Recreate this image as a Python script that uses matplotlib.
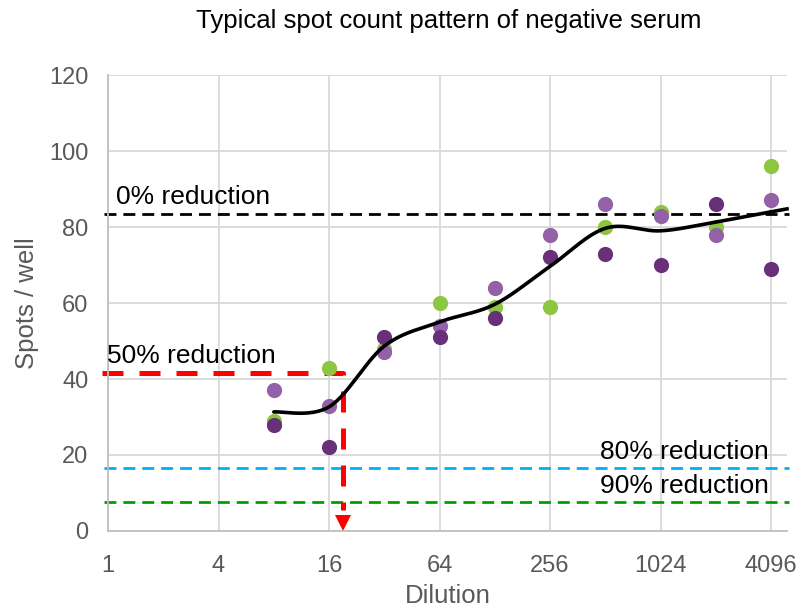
import numpy as np
from matplotlib import pyplot as plt

plt.rcParams['font.family'] = ['Liberation Sans', 'DejaVu Sans']

# data
dilution = [8, 16, 32, 64, 128, 256, 512, 1024, 2048, 4096]
rep_green = [29, 43, 48, 60, 59, 59, 80, 84, 80, 96]
rep_light = [37, 33, 47, 54, 64, 78, 86, 83, 78, 87]
rep_dark = [28, 22, 51, 51, 56, 72, 73, 70, 86, 69]

ref_levels = [83.5, 41.5, 16.5, 7.5]  # 0%, 50%, 80%, 90% reduction
ref_names = ["0% reduction", "50% reduction", "80% reduction", "90% reduction"]
cutoff_dilution = 19

xticks = [1, 4, 16, 64, 256, 1024, 4096]
yticks = [0, 20, 40, 60, 80, 100, 120]

GRAY = "#595959"

def smooth(xs, ys, n=30):  # Catmull-Rom style smoothing, like a spreadsheet "smoothed line"
  px = np.log2(np.array(xs, dtype=float))
  py = np.array(ys, dtype=float)
  P = np.column_stack([px, py])
  P = np.vstack([P[0], P, P[-1]])
  out = []
  for i in range(1, len(P) - 2):
    p0, p1, p2, p3 = P[i-1], P[i], P[i+1], P[i+2]
    c1 = p1 + (p2 - p0) / 6
    c2 = p2 - (p3 - p1) / 6
    t = np.linspace(0, 1, n)[:, None]
    seg = (1-t)**3*p1 + 3*(1-t)**2*t*c1 + 3*(1-t)*t**2*c2 + t**3*p2
    out.append(seg)
  out = np.vstack(out)
  return 2**out[:, 0], out[:, 1]

mean = np.mean([rep_green, rep_light, rep_dark], axis=0)
sx, sy = smooth(dilution, mean)
# keep going to the right edge with the last slope
slope = (sy[-1] - sy[-2]) / (np.log2(sx[-1]) - np.log2(sx[-2]))
ex = np.array([sx[-1], 5000.0])
ey = sy[-1] + slope * (np.log2(ex) - np.log2(sx[-1]))

fig = plt.figure(figsize=(8.02, 6.09), dpi=100)
ax = fig.add_axes([0.1347, 0.1281, 0.8466, 0.7487])
ax.set_xscale('log', base=2)
ax.set_xlim(1, 5000)
ax.set_ylim(0, 120)

ax.grid(True, color="#D9D9D9", linewidth=1.3)
ax.set_axisbelow(True)
for s in ['top', 'right']:
  ax.spines[s].set_visible(False)
for s in ['left', 'bottom']:
  ax.spines[s].set_color("#BFBFBF")
  ax.spines[s].set_linewidth(1.3)

ax.set_xticks(xticks)
ax.set_xticklabels([str(v) for v in xticks])
ax.set_yticks(yticks)
ax.minorticks_off()
ax.tick_params(length=0, labelsize=17, colors=GRAY)
ax.tick_params(axis='x', pad=17)
ax.tick_params(axis='y', pad=14)

# reference lines
x0, x1 = 0.95, 5150
dash = (0, (4.3, 2.5))
ax.plot([x0, x1], [ref_levels[0]]*2, color="black", ls=dash, lw=2, clip_on=False)
ax.plot([x0, x1], [ref_levels[2]]*2, color="#00B0F0", ls=dash, lw=2, clip_on=False)
ax.plot([x0, x1], [ref_levels[3]]*2, color="#00A000", ls=dash, lw=2, clip_on=False)

# 50% cutoff
ax.plot([0.93, cutoff_dilution, cutoff_dilution], [ref_levels[1], ref_levels[1], 5.5],
        color="#FF0000", ls=(0, (4.2, 3.2)), lw=3.6, clip_on=False)
ax.plot([cutoff_dilution], [2.2], marker='v', color="#FF0000", ms=12, mew=0, clip_on=False)

# replicates
ax.scatter(dilution, rep_green, s=120, color="#8DC63F", zorder=3, linewidths=0)
ax.scatter(dilution, rep_light, s=120, color="#9361A8", zorder=3, linewidths=0)
ax.scatter(dilution, rep_dark, s=120, color="#683078", zorder=3, linewidths=0)

# smoothed mean
ax.plot(sx, sy, color="black", lw=2.6, zorder=4, solid_capstyle='round')
ax.plot(ex, ey, color="black", lw=2.6, zorder=4, clip_on=False)

ax.text(1.1, ref_levels[0] + 1.2, ref_names[0], fontsize=19, va='bottom', ha='left')
ax.text(0.99, ref_levels[1] + 1.4, ref_names[1], fontsize=19, va='bottom', ha='left')
ax.text(4000, ref_levels[2] + 1.2, ref_names[2], fontsize=19, va='bottom', ha='right')
ax.text(4000, ref_levels[3] + 1.2, ref_names[3], fontsize=19, va='bottom', ha='right')

ax.set_xlabel("Dilution", fontsize=18.5, color=GRAY, labelpad=5)
ax.set_ylabel("Spots / well", fontsize=18.5, color=GRAY, labelpad=7)
fig.text(0.56, 0.965, "Typical spot count pattern of negative serum", fontsize=18.5,
         ha='center', va='center')

fig.savefig('out.png', dpi=100)
